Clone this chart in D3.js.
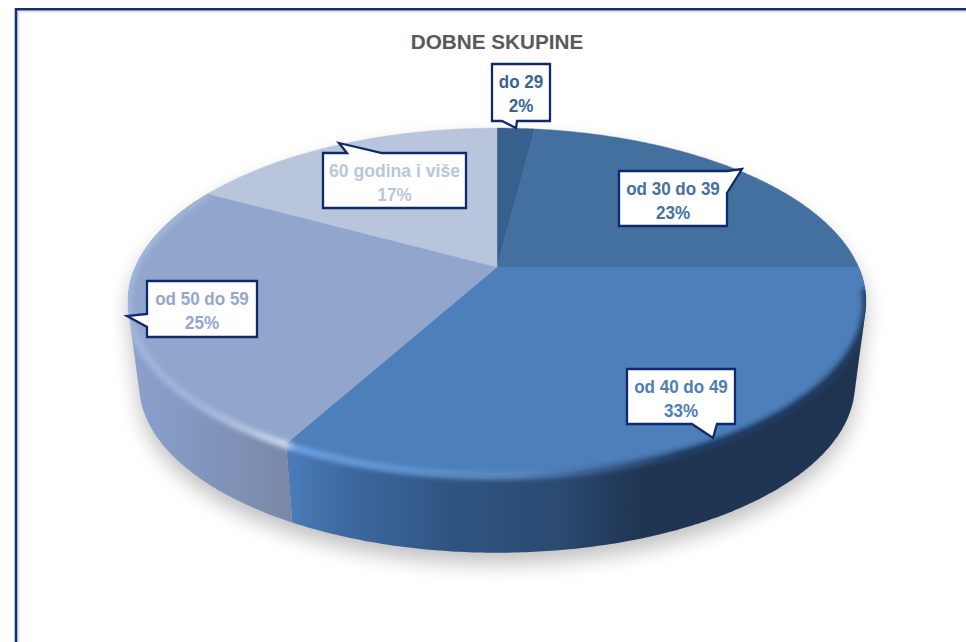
<!DOCTYPE html>
<html>
<head>
<meta charset="utf-8">
<script src="https://cdn.jsdelivr.net/npm/d3@7"></script>
<style>
html, body { margin: 0; padding: 0; background: #fff; }
svg { display: block; }
text { font-family: "Liberation Sans", Arial, sans-serif; font-weight: bold; text-anchor: middle; }
</style>
</head>
<body>
<svg id="chart" width="966" height="642"></svg>
<script>
var title = "DOBNE SKUPINE";
var categories = ["do 29", "od 30 do 39", "od 40 do 49", "od 50 do 59", "60 godina i više"];
var shares = [2, 23, 33, 25, 17];
var faceColors = ["#38608f", "#44709f", "#4d7fba", "#92a6cd", "#b8c5dc"];
var textColors = ["#3b6495", "#46709f", "#4f7db6", "#95a7cc", "#bac6dc"];

// callout boxes: x0, x1, y0, y1, side the tail leaves from, tail start, tip x, tip y, tail end
var boxes = [
	[492, 550, 64, 121, "bottom", 502, 516, 128, 517],
	[619, 727, 171, 226, "right", 171, 742, 169, 193],
	[627, 735, 369, 424, "bottom", 692, 713, 438, 717],
	[147, 257, 281, 337, "left", 314, 127, 316, 327],
	[323, 466, 153, 208, "top", 347, 339, 143, 382]
];

// perspective disc seen from above
var cx = 497, cy = 267, kx = 361.6, ky = 166.6, persp = 0.199;
// bottom disc of the cake
var bottomScale = 0.97, bottomDrop = 84;

var svg = d3.select("#chart");
var defs = svg.append("defs");

function project(a, scale, drop){
	var u = Math.sin(a), v = -Math.cos(a), w = 1 - persp * v;
	return [cx + kx * scale * u / w, cy + drop + ky * scale * v / w];
}
function arcPoints(a0, a1, scale, drop){
	var n = Math.max(2, Math.ceil((a1 - a0) / 0.01));
	return d3.range(n + 1).map(function(i){
		return project(a0 + (a1 - a0) * i / n, scale, drop);
	});
}
var line = d3.line();

function addGradient(id, stops, x1, x2){
	var g = defs.append("linearGradient").attr("id", id)
		.attr("gradientUnits", "userSpaceOnUse")
		.attr("x1", x1).attr("x2", x2).attr("y1", 0).attr("y2", 0);
	stops.forEach(function(s){
		g.append("stop").attr("offset", (s[0] - x1) / (x2 - x1)).attr("stop-color", s[1]);
	});
}
addGradient("side25", [[128, "#8aa2ce"], [170, "#869bc5"], [240, "#7e90b4"], [295, "#7887a6"]], 128, 295);
addGradient("side33", [[288, "#4a7cb8"], [340, "#3f6ba1"], [450, "#2f5482"], [560, "#2a4a70"], [640, "#1f3552"], [866, "#1f3450"]], 288, 866);
addGradient("rim", [[128, "#a2b7e0"], [200, "#a3b6dc"], [250, "#b7c7e4"], [286, "#d3deef"], [296, "#6fa2e4"], [400, "#6598d8"], [520, "#5a8ac4"], [600, "#3d6596"], [680, "#24406a"], [866, "#203c60"]], 128, 866);

var blur = defs.append("filter").attr("id", "shadowBlur")
	.attr("x", "-20%").attr("y", "-20%").attr("width", "140%").attr("height", "140%");
blur.append("feGaussianBlur").attr("stdDeviation", 10);
var soft = defs.append("filter").attr("id", "rimBlur")
	.attr("x", "-5%").attr("y", "-5%").attr("width", "110%").attr("height", "110%");
soft.append("feGaussianBlur").attr("stdDeviation", 2.4);

// frame, only top and left are in the picture
svg.append("path").attr("d", "M18.5,642V11.5H966").attr("fill", "none").attr("stroke", "#e2e4e8").attr("stroke-width", 2);
svg.append("path").attr("d", "M16,642V9.3H966").attr("fill", "none").attr("stroke", "#12306e").attr("stroke-width", 2.6);

svg.append("text").attr("x", 497).attr("y", 49).attr("font-size", 20.7).attr("fill", "#595959").text(title);

var pie = d3.pie().sort(null).value(function(d){ return d; })(shares);

var full = arcPoints(0, 2 * Math.PI, 1, 0);
var fullBottom = arcPoints(0, 2 * Math.PI, bottomScale, bottomDrop);
var body = d3.polygonHull(full.concat(fullBottom));

// ground shadow
svg.append("path")
	.attr("d", line(body) + "Z")
	.attr("transform", "translate(0,11)")
	.attr("fill", "#909090")
	.attr("opacity", 0.55)
	.attr("filter", "url(#shadowBlur)");

// side wall, only the two front slices show it
[2, 3].forEach(function(i){
	var s = pie[i];
	var pts = arcPoints(s.startAngle, s.endAngle, 1, 0).concat(arcPoints(s.startAngle, s.endAngle, bottomScale, bottomDrop));
	svg.append("path")
		.attr("d", line(d3.polygonHull(pts)) + "Z")
		.attr("fill", i == 2 ? "url(#side33)" : "url(#side25)");
});

// top face
svg.append("g").selectAll("path")
	.data(pie)
	.enter()
	.append("path")
	.attr("d", function(d){
		return line([[cx, cy]].concat(arcPoints(d.startAngle, d.endAngle, 1, 0))) + "Z";
	})
	.attr("fill", function(d, i){ return faceColors[i]; })
	.attr("stroke", function(d, i){ return faceColors[i]; })
	.attr("stroke-width", 0.4);

// soft rounded rim between face and wall
defs.append("clipPath").attr("id", "bodyClip").append("path").attr("d", line(body) + "Z");
svg.append("g").attr("clip-path", "url(#bodyClip)")
	.append("path")
	.attr("d", line(arcPoints(pie[2].startAngle + 0.12, pie[3].endAngle, 1, 1)))
	.attr("fill", "none")
	.attr("stroke", "url(#rim)")
	.attr("stroke-width", 7)
	.attr("filter", "url(#rimBlur)");

// callouts
function calloutPath(b){
	var x0 = b[0], x1 = b[1], y0 = b[2], y1 = b[3], side = b[4], s = b[5], tx = b[6], ty = b[7], e = b[8];
	var p = [[x0, y0]];
	if(side == "top") p.push([s, y0], [tx, ty], [e, y0]);
	p.push([x1, y0]);
	if(side == "right") p.push([x1, s], [tx, ty], [x1, e]);
	p.push([x1, y1]);
	if(side == "bottom") p.push([e, y1], [tx, ty], [s, y1]);
	p.push([x0, y1]);
	if(side == "left") p.push([x0, e], [tx, ty], [x0, s]);
	return line(p) + "Z";
}

var labels = svg.append("g").selectAll("g")
	.data(boxes)
	.enter()
	.append("g");

labels.append("path")
	.attr("d", calloutPath)
	.attr("fill", "#fff")
	.attr("stroke", "#10296a")
	.attr("stroke-width", 2.3)
	.attr("stroke-linejoin", "miter");

// the reference text is narrower than Liberation at this height
labels.append("text")
	.attr("x", function(d){ return (d[0] + d[1]) / 2; })
	.attr("y", function(d){ return d[2] + 24; })
	.attr("font-size", 18.5)
	.attr("fill", function(d, i){ return textColors[i]; })
	.text(function(d, i){ return categories[i]; })
	.attr("lengthAdjust", "spacingAndGlyphs")
	.attr("textLength", function(d, i){ return this.getComputedTextLength() * (i == 4 ? 0.95 : 0.92); });

labels.append("text")
	.attr("x", function(d){ return (d[0] + d[1]) / 2; })
	.attr("y", function(d){ return d[2] + 47.5; })
	.attr("font-size", 18.5)
	.attr("fill", function(d, i){ return textColors[i]; })
	.text(function(d, i){ return shares[i] + "%"; })
	.attr("lengthAdjust", "spacingAndGlyphs")
	.attr("textLength", function(){ return this.getComputedTextLength() * 0.92; });
</script>
</body>
</html>
